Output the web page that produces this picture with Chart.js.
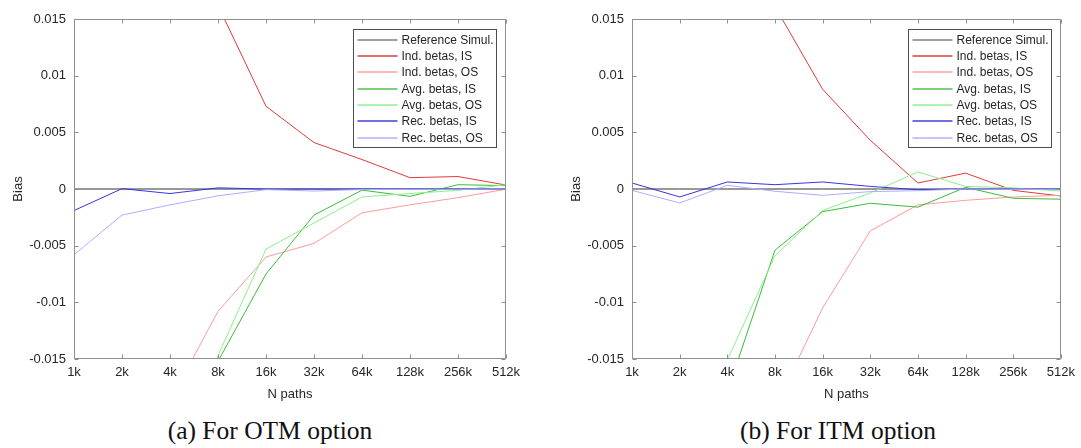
<!DOCTYPE html>
<html>
<head>
<meta charset="utf-8">
<script src="https://cdn.jsdelivr.net/npm/chart.js@4.4.1/dist/chart.umd.min.js"></script>
<style>
  html, body { margin: 0; padding: 0; background: #fff; }
  #wrap { position: relative; width: 1081px; height: 448px; overflow: hidden; }
  canvas { position: absolute; top: 0; }
  .cap {
    position: absolute; top: 418px; width: 400px; text-align: center;
    font-family: "Liberation Serif", serif; font-size: 25.5px; line-height: 25.5px;
    color: #111; white-space: nowrap;
  }
</style>
</head>
<body>
<div id="wrap">
  <canvas id="otm" width="540" height="410" style="left:0px"></canvas>
  <canvas id="itm" width="541" height="410" style="left:540px"></canvas>
  <div class="cap" style="left:70px">(a) For OTM option</div>
  <div class="cap" style="left:638px">(b) For ITM option</div>
</div>
<script>
// x categories (number of paths)
const categories = ["1k", "2k", "4k", "8k", "16k", "32k", "64k", "128k", "256k", "512k"];
const seriesLabels = ["Reference Simul.", "Ind. betas, IS", "Ind. betas, OS",
  "Avg. betas, IS", "Avg. betas, OS", "Rec. betas, IS", "Rec. betas, OS"];

// y axis range
const yMin = -0.015;
const yMax = 0.015;
const yStep = 0.005;

// OTM option
const refOtm   = [0, 0, 0, 0, 0, 0, 0, 0, 0, 0];
const indIsOtm = [0.06, 0.04, 0.028, 0.0162, 0.0073, 0.0041, 0.0026, 0.001, 0.0011, 0.00035];
const indOsOtm = [-0.06, -0.04, -0.0187, -0.0108, -0.006, -0.0048, -0.0021, -0.0014, -0.00076, -0.00002];
const avgIsOtm = [-0.08, -0.05, -0.03, -0.0152, -0.0075, -0.0023, -0.0001, -0.00065, 0.00038, 0.0003];
const avgOsOtm = [-0.07, -0.045, -0.028, -0.0147, -0.0053, -0.003, -0.0007, -0.0004, -0.00012, 0.00038];
const recIsOtm = [-0.0019, 0.00003, -0.0004, 0.0001, 0, 0, 0, 0, 0, 0];
const recOsOtm = [-0.0058, -0.0023, -0.0014, -0.0006, -0.00006, -0.00018, -0.00005, -0.00003, -0.00003, 0];

// ITM option
const refItm   = [0, 0, 0, 0, 0, 0, 0, 0, 0, 0];
const indIsItm = [0.06, 0.04, 0.028, 0.0161, 0.0088, 0.0043, 0.00053, 0.0014, -0.00012, -0.00062];
const indOsItm = [-0.08, -0.05, -0.03, -0.0193, -0.0105, -0.0037, -0.0014, -0.001, -0.0007, -0.00056];
const avgIsItm = [-0.06, -0.04, -0.0179, -0.0054, -0.002, -0.00126, -0.0016, 0.00015, -0.00082, -0.0009];
const avgOsItm = [-0.05, -0.035, -0.0151, -0.0059, -0.0019, -0.00035, 0.0015, 0.00023, 0.0001, -0.00018];
const recIsItm = [0.00053, -0.0007, 0.00062, 0.00038, 0.00062, 0.00023, -0.00006, 0, 0, 0];
const recOsItm = [-0.00012, -0.00123, 0.00032, -0.0002, -0.00056, -0.00023, -0.00015, 0, -0.00003, -0.00003];

// MATLAB-ish palette
const lineColors = ["#333333", "#e03a3a", "#ff9a9a", "#3cbb3c", "#8af08a", "#3636e0", "#aeaeff"];
const legendColors = ["#a0a0a0", "#d84040", "#ffa0a0", "#50c050", "#90f090", "#4040d8", "#c4c4ff"];

const AXIS = "#8f8f8f";
const TEXT = "#262626";
const SANS = "'Liberation Sans', Arial, sans-serif";

// box round the plot with inward ticks on all four sides
const boxPlugin = {
  id: "matlabBox",
  afterDatasetsDraw(chart) {
    const { ctx, chartArea: a, scales: { x, y } } = chart;
    const l = Math.round(a.left) + 0.5, r = Math.round(a.right) - 0.5;
    const t = Math.round(a.top) + 0.5, b = Math.round(a.bottom) - 0.5;
    ctx.save();
    ctx.strokeStyle = AXIS;
    ctx.lineWidth = 1;
    ctx.beginPath();
    ctx.rect(l, t, r - l, b - t);
    x.ticks.forEach((tk, i) => {
      const px = Math.round(x.getPixelForTick(i)) + 0.5;
      ctx.moveTo(px, b); ctx.lineTo(px, b - 4);
      ctx.moveTo(px, t); ctx.lineTo(px, t + 4);
    });
    y.ticks.forEach((tk, i) => {
      const py = Math.round(y.getPixelForTick(i)) + 0.5;
      ctx.moveTo(l, py); ctx.lineTo(l + 4, py);
      ctx.moveTo(r, py); ctx.lineTo(r - 4, py);
    });
    ctx.stroke();
    ctx.restore();
  }
};

// legend box inside the top right corner of the plot
const legendPlugin = {
  id: "insideLegend",
  afterDraw(chart) {
    const { ctx, chartArea: a } = chart;
    const w = 143, h = 118;
    const left = Math.round(a.right - 10 - w) + 0.5;
    const top = Math.round(a.top + 10) + 0.5;
    ctx.save();
    ctx.fillStyle = "#fff";
    ctx.fillRect(left, top, w, h);
    ctx.strokeStyle = "#4d4d4d";
    ctx.lineWidth = 1;
    ctx.strokeRect(left, top, w, h);
    ctx.font = "12px " + SANS;
    ctx.textBaseline = "middle";
    ctx.textAlign = "left";
    chart.data.datasets.forEach((ds, i) => {
      const thick = i === 0 || i === 6;
      const yy = Math.round(top + 10 + i * 16.35);
      ctx.beginPath();
      ctx.strokeStyle = legendColors[i];
      ctx.lineWidth = thick ? 2.2 : 1.6;
      ctx.moveTo(left + 4, yy);
      ctx.lineTo(left + 44, yy);
      ctx.stroke();
      ctx.fillStyle = TEXT;
      ctx.fillText(ds.label, left + 48, yy + 1);
    });
    ctx.restore();
  }
};

function makeChart(canvasId, series, yAxisWidth, rightPad, titlePad) {
  const ctx = document.getElementById(canvasId);
  return new Chart(ctx, {
    type: "line",
    data: {
      labels: categories,
      datasets: series.map((data, i) => ({
        label: seriesLabels[i],
        data,
        borderColor: lineColors[i],
        backgroundColor: lineColors[i],
        borderWidth: 1,
        pointRadius: 0,
        tension: 0,
        fill: false,
        order: series.length - i,
      })),
    },
    options: {
      responsive: false,
      animation: false,
      devicePixelRatio: 1,
      layout: { padding: { top: 19, right: rightPad, bottom: 0, left: 0 } },
      plugins: { legend: { display: false }, tooltip: { enabled: false } },
      scales: {
        x: {
          type: "category",
          offset: false,
          grid: { display: false, drawTicks: false },
          border: { display: false },
          ticks: { color: TEXT, font: { family: SANS, size: 13 }, padding: 6, maxRotation: 0, autoSkip: false },
          title: { display: true, text: "N paths", color: TEXT, font: { family: SANS, size: 13 }, padding: { top: 0, bottom: 8 } },
          afterFit(scale) { scale.height = 51; },
        },
        y: {
          min: yMin,
          max: yMax,
          grid: { display: false, drawTicks: false },
          border: { display: false },
          ticks: {
            stepSize: yStep,
            color: TEXT,
            font: { family: SANS, size: 13 },
            padding: 8,
            callback: (v) => String(parseFloat(Number(v).toFixed(3))),
          },
          title: { display: true, text: "Bias", color: TEXT, font: { family: SANS, size: 13 }, padding: { top: titlePad, bottom: 0 } },
          afterFit(scale) { scale.width = yAxisWidth; },
        },
      },
    },
    plugins: [boxPlugin, legendPlugin],
  });
}

makeChart("otm", [refOtm, indIsOtm, indOsOtm, avgIsOtm, avgOsOtm, recIsOtm, recOsOtm], 74, 34, 11);
makeChart("itm", [refItm, indIsItm, indOsItm, avgIsItm, avgOsItm, recIsItm, recOsItm], 92, 17, 29);
</script>
</body>
</html>
